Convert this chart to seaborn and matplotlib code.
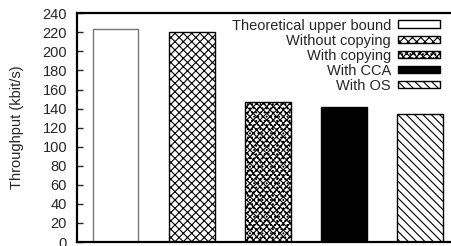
import pandas as pd
import matplotlib
matplotlib.use("Agg")
import matplotlib.pyplot as plt
from matplotlib.patches import Patch
import seaborn as sns

# data
configs = ["Theoretical upper bound", "Without copying", "With copying", "With CCA", "With OS"]
throughput = [224, 220, 147, 142, 134]
face_colors = ["white", "white", "white", "black", "white"]
edge_colors = ["#777777", "black", "black", "black", "black"]
hatches = ["", "xxxx", "xxxxx....", "", "\\\\\\\\"]
y_ticks = list(range(0, 241, 20))

sns.set_style("ticks")
plt.rcParams["font.family"] = ["Liberation Sans", "DejaVu Sans"]
plt.rcParams["hatch.linewidth"] = 0.8
plt.rcParams["hatch.color"] = "black"

df = pd.DataFrame({"config": configs, "throughput": throughput})

fig = plt.figure(figsize=(4.52, 2.46), dpi=100)
ax = fig.add_axes([0.170, 0.016, 0.845, 0.930])

sns.barplot(data=df, x="config", y="throughput", hue="config",
            palette=face_colors, width=0.6, dodge=False, legend=False, ax=ax)

for bar, ec, h in zip(ax.patches, edge_colors, hatches):
    bar.set_edgecolor(ec)
    bar.set_linewidth(1.0)
    bar.set_hatch(h)

ax.set_xlim(-0.51, 4.51)
ax.set_ylim(0, 240)
ax.set_yticks(y_ticks)
ax.set_xticks([])
ax.set_xlabel("")
ax.set_ylabel("Throughput (kbit/s)", fontsize=10.5, labelpad=13)
ax.tick_params(axis="y", direction="in", length=4, width=1, labelsize=10.5, pad=7)

for side in ["left", "top", "bottom"]:
    ax.spines[side].set_linewidth(1.6)
    ax.spines[side].set_color("black")
ax.spines["right"].set_visible(False)

handles = [Patch(facecolor=fc, edgecolor=ec, hatch=h, linewidth=1.0)
           for fc, ec, h in zip(face_colors, edge_colors, hatches)]
handles[0].set_edgecolor("black")
ax.legend(handles, configs, loc="upper right", bbox_to_anchor=(0.975, 1.015),
          frameon=False, markerfirst=False, fontsize=10.5, handlelength=2.9,
          handleheight=0.45, handletextpad=0.5, labelspacing=0.07,
          borderaxespad=0.2)
ax.get_legend()._legend_box.align = "right"
for t in ax.get_legend().get_texts():
    t.set_ha("right")

fig.savefig("out.png", dpi=100)
